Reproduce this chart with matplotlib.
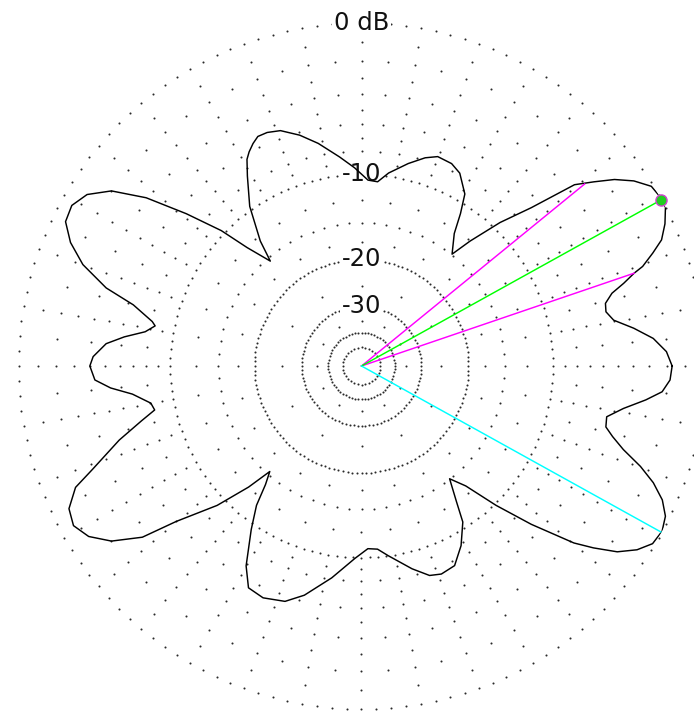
import numpy as np
import matplotlib
matplotlib.use("Agg")
import matplotlib.pyplot as plt

# azimuth pattern (degrees, dB relative to peak)
angle_deg = [0, 2.7, 5.4, 7.9, 10.3, 12.5, 14.4, 16.2, 17.5, 18.8, 19.5, 21.2, 22.8, 25.1, 27.6, 29.7,
             31.8, 34.2, 36.4, 38.4, 40.4,
             43, 46, 49, 51, 55, 57, 59, 63, 66, 70, 73, 77, 82, 85, 88, 92, 96, 101, 105, 109, 112,
             114.3, 116, 117.7, 119, 121, 125, 129, 131, 134, 136, 139, 142, 145, 148, 151, 154, 157, 160, 163, 165, 168, 169,
             171, 173, 175, 178, 180, 183, 185, 187, 190, 192, 194, 197, 201, 203, 206, 209, 212, 215, 218, 220,
             224, 227, 229, 231, 233, 236, 240, 243, 247, 252, 256, 262, 268, 272, 275, 278, 284, 288, 291, 295,
             299, 303, 305, 308, 311, 314, 317,
             320.2, 321.9, 324.0, 326.3, 328.6, 331.2, 333.7, 336.0, 338.2, 340.2, 342.3, 344.3, 346.0, 348.3,
             350.8, 353.2, 355.1, 357.4, 360]
gain_db = [-1.7, -2.0, -2.7, -3.8, -5.0, -5.4, -5.3, -4.7, -3.8, -3.0, -2.4, -1.6, -0.9, -0.4, 0.0, 0.0,
           -0.1, -0.7, -1.5, -2.5, -3.5,
           -6.7, -9.3, -12.5, -14.9, -12.9, -10.9, -9.2, -7.9, -7.5, -7.4, -7.8, -8.6, -9.7, -10.6, -10.5, -9.4, -8.4, -7.1, -6.2, -5.5, -5.3,
           -5.3, -5.6, -6.0, -6.4, -7.5, -9.7, -13.0, -15.5, -12.6, -9.7, -6.7, -3.9, -2.0, -1.0, -0.6, -0.7, -1.4, -2.5, -4.3, -6.4, -8.1, -8.4,
           -7.7, -6.2, -5.0, -4.2, -4.0, -4.3, -5.3, -6.8, -8.1, -8.3, -7.1, -5.2, -3.0, -1.7, -0.9, -0.7, -1.1, -2.0, -3.6, -6.0,
           -9.2, -12.5, -15.4, -13.9, -11.6, -9.5, -6.8, -5.5, -5.3, -5.6, -6.4, -8.1, -9.9, -10.8, -10.7, -10.0, -8.5, -7.6, -7.4, -7.6,
           -8.8, -10.5, -12.5, -15.0, -13.2, -9.8, -6.7,
           -3.7, -2.6, -1.4, -0.6, -0.1, 0.0, -0.2, -0.7, -1.5, -2.5, -3.8, -4.7, -5.3, -5.4,
           -4.4, -3.1, -2.2, -1.8, -1.7]

peak_angle = 29
peak_db = 0.0
half_power_angles = [39.2, 18.8]
half_power_db = [-3.0, -3.0]
second_peak_angle = -29
second_peak_db = 0.0

ring_db = [0, -10, -20, -30]
ring_labels = ["0 dB", "-10", "-20", "-30"]

FLOOR = -150  # axis floor, maps to the centre


def arrl_fwd(g):
    # ARRL log scale: radius shrinks to 0.89 for every 2 dB
    g = np.asarray(g, dtype=float)
    return 0.89 ** (-g / 2.0)


def arrl_inv(r):
    r = np.clip(np.asarray(r, dtype=float), 1e-12, None)
    return -2.0 * np.log(r) / np.log(0.89)


fig = plt.figure(figsize=(6.94, 7.15), dpi=100)
fig.patch.set_facecolor("white")

cx, cy, rad = 361.5 / 694, (715 - 366) / 715, 343.0
ax = fig.add_axes([cx - rad / 694, cy - rad / 715, 2 * rad / 694, 2 * rad / 715],
                  projection="polar")
ax.set_rscale("function", functions=(arrl_fwd, arrl_inv))
ax.set_theta_zero_location("E")
ax.set_theta_direction(1)
ax.grid(False)
ax.set_xticks([])
ax.set_yticks([])
ax.spines["polar"].set_visible(False)
ax.patch.set_alpha(0)

# dotted grid
dot_kw = dict(s=2.2, c="#2a2a2a", linewidths=0, clip_on=False, zorder=1)
dense = [(0, 2.5), (-10, 2.5), (-20, 2.5), (-30, 3.75), (-40, 5.625), (-50, 11.25)]
for lvl, step in dense:
    th = np.radians(np.arange(0, 360, step))
    ax.scatter(th, np.full(th.shape, lvl), **dot_kw)
sparse = [(-1, 10), (-2, 5), (-3, 10), (-4, 5), (-5, 10), (-6, 5), (-7, 10), (-8, 5), (-9, 10),
          (-12.5, 10), (-15, 5), (-17.5, 15), (-25, 30), (-35, 30)]
for lvl, step in sparse:
    th = np.radians(np.arange(0, 360, step))
    ax.scatter(th, np.full(th.shape, lvl), **dot_kw)

for lvl, lab in zip(ring_db, ring_labels):
    ax.text(np.radians(90), lvl, lab, ha="center", va="center", fontsize=17.5,
            family="DejaVu Sans", color="#111111", zorder=3,
            bbox=dict(boxstyle="square,pad=0.08", fc="white", ec="none"))

# pattern
th = np.radians(angle_deg)
ax.plot(th, gain_db, color="black", lw=1.05, zorder=4)

# beam lines
for a, g in zip(half_power_angles, half_power_db):
    ax.plot([np.radians(a)] * 2, [FLOOR, g], color="#ff00ff", lw=1.05, zorder=5)
ax.plot([np.radians(peak_angle)] * 2, [FLOOR, peak_db], color="#00ff00", lw=1.05, zorder=5)
ax.plot([np.radians(second_peak_angle)] * 2, [FLOOR, second_peak_db], color="#00ffff", lw=1.05, zorder=5)
ax.plot(np.radians(peak_angle), peak_db, "o", ms=8, mfc="#1fcf1f", mec="#d040d0", mew=1,
        clip_on=False, zorder=6)

ax.set_ylim(FLOOR, 0)
ax.set_autoscale_on(False)

fig.savefig("out.png", dpi=100, facecolor="white")
